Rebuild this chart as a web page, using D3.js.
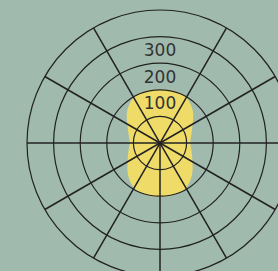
<!DOCTYPE html>
<html>
<head>
<meta charset="utf-8">
<script src="https://cdnjs.cloudflare.com/ajax/libs/d3/7.8.5/d3.min.js"></script>
<style>
    html, body { margin: 0; padding: 0; background: #a0bbae; overflow: hidden; }
    svg { display: block; }
    .ring { fill: none; stroke: #222; stroke-width: 1.2; }
    .spoke { stroke: #222; stroke-width: 1.5; }
    .label { font-family: "DejaVu Sans", sans-serif; font-size: 17px; fill: #333; }
</style>
</head>
<body>
<svg id="chart"></svg>
<script>
// data: radius value every 15 degrees, clockwise from the top
var angles = [0, 15, 30, 45, 60, 75, 90, 105, 120, 135, 150, 165,
              180, 195, 210, 225, 240, 255, 270, 285, 300, 315, 330, 345];
var values = [202, 203, 198, 174, 142, 122, 114, 123, 141, 170, 195, 202,
              202, 202, 195, 170, 141, 123, 114, 122, 142, 174, 198, 203];

var ringValues = [100, 200, 300, 400, 500];
var tickLabels = [100, 200, 300];
// no spoke straight up: the labels sit there
var spokeAngles = [30, 60, 90, 120, 150, 180, 210, 240, 270, 300, 330];

var width = 278,
    height = 271,
    cx = 160,
    cy = 143,
    outerRadius = 133;

var svg = d3.select('#chart')
    .attr('width', width)
    .attr('height', height);

var g = svg.append('g')
    .attr('transform', 'translate(' + cx + ',' + cy + ')');

var r = d3.scaleLinear()
    .domain([0, d3.max(ringValues)])
    .range([0, outerRadius]);

var rad = function(deg) { return deg * Math.PI / 180; };

// area: close the shape by repeating the first point at 360
//
var points = angles.map(function(a, i) { return { angle: a, value: values[i] }; });
points.push({ angle: 360, value: values[0] });

var area = d3.areaRadial()
    .angle(function(d) { return rad(d.angle); })
    .innerRadius(0)
    .outerRadius(function(d) { return r(d.value); })
    .curve(d3.curveCatmullRom);

g.append('path')
    .datum(points)
    .attr('fill', '#efdb68')
    .attr('d', area);

// grid rings
//
g.selectAll('.ring').data(ringValues)
    .enter().append('circle')
        .attr('class', 'ring')
        .attr('r', function(d) { return r(d); });

// spokes
//
g.selectAll('.spoke').data(spokeAngles)
    .enter().append('line')
        .attr('class', 'spoke')
        .attr('x1', 0)
        .attr('y1', 0)
        .attr('x2', function(d) { return r(d3.max(ringValues)) * Math.sin(rad(d)); })
        .attr('y2', function(d) { return -r(d3.max(ringValues)) * Math.cos(rad(d)); });

// labels sit in the band above their ring
//
var step = r(100);
g.selectAll('.label').data(tickLabels)
    .enter().append('text')
        .attr('class', 'label')
        .attr('text-anchor', 'middle')
        .attr('dominant-baseline', 'central')
        .attr('y', function(d) { return -(r(d) + step / 2); })
        .text(function(d) { return d; });
</script>
</body>
</html>
